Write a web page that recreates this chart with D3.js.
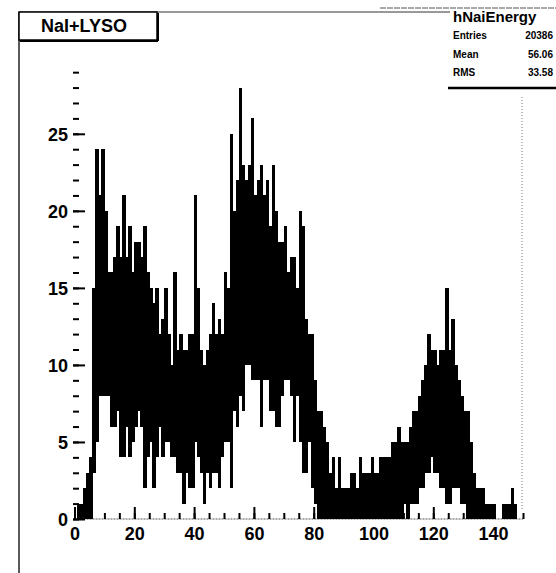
<!DOCTYPE html>
<html>
<head>
<meta charset="utf-8">
<script src="https://cdn.jsdelivr.net/npm/d3@7"></script>
<style>
  body { margin: 0; background: #fff; }
  svg { display: block; font-family: "Liberation Sans", Arial, sans-serif; }
</style>
</head>
<body>
<svg id="chart" width="556" height="573"></svg>
<script>
// hNaiEnergy. The fine binning makes the line look filled,
// so each 1-unit bin keeps the top and bottom of the black band (counts).
const countHi = [
  0, 1, 1, 2, 3, 4, 15, 24, 21, 24,
  20, 16, 16, 17, 19, 17, 21, 17, 19, 16,
  18, 18, 17, 19, 16, 15, 14, 15, 12, 13,
  15, 12, 10, 16, 11, 12, 11, 11, 12, 12,
  21, 15, 11, 10, 11, 12, 14, 12, 13, 12,
  16, 15, 25, 20, 22, 28, 23, 22, 23, 26,
  21, 22, 23, 21, 22, 19, 23, 20, 18, 18,
  19, 16, 17, 17, 15, 20, 19, 13, 12, 12,
  9, 7, 7, 6, 5, 3, 4, 2, 4, 2,
  2, 2, 3, 3, 2, 4, 3, 3, 3, 4,
  3, 3, 4, 4, 4, 4, 5, 5, 6, 5,
  5, 5, 6, 7, 7, 8, 9, 10, 12, 11,
  11, 10, 11, 11, 15, 11, 13, 10, 9, 8,
  7, 7, 5, 3, 2, 2, 2, 1, 1, 1,
  1, 0, 0, 1, 1, 1, 2, 1, 0, 0
];
const countLo = [
  0, 0, 0, 0, 0, 0, 3, 5, 8, 8,
  8, 8, 6, 6, 7, 4, 4, 6, 4, 5,
  6, 7, 6, 2, 4, 5, 2, 4, 6, 4,
  5, 5, 4, 4, 3, 3, 1, 3, 2, 2,
  5, 4, 3, 1, 3, 2, 3, 3, 2, 4,
  5, 5, 2, 7, 6, 8, 7, 10, 10, 9,
  9, 9, 6, 9, 9, 7, 7, 6, 6, 8,
  9, 9, 8, 5, 8, 5, 3, 3, 5, 2,
  1, 0, 0, 0, 0, 0, 0, 0, 0, 0,
  0, 0, 0, 0, 0, 0, 0, 0, 0, 0,
  0, 0, 0, 0, 0, 0, 0, 0, 0, 0,
  1, 0, 1, 1, 1, 2, 2, 3, 3, 4,
  3, 3, 2, 2, 1, 1, 2, 2, 2, 1,
  1, 0, 0, 0, 0, 0, 0, 0, 0, 0,
  0, 0, 0, 0, 0, 0, 0, 0, 0, 0
];
const xTickValues = [0, 20, 40, 60, 80, 100, 120, 140];
const yTickValues = [0, 5, 10, 15, 20, 25];
const histTitle = "NaI+LYSO";
const statsName = "hNaiEnergy";
const statNames = ["Entries", "Mean", "RMS"];
const statValues = ["20386", "56.06", "33.58"];

const svg = d3.select("#chart");

const x = d3.scaleLinear().domain([0, 150]).range([74.5, 523]);
const y = d3.scaleLinear().domain([0, 29.4]).range([519, 66]);

// pad border (only left and top survive in the scan)
svg.append("line")
    .attr("x1", 19).attr("y1", 12).attr("x2", 19).attr("y2", 573)
    .attr("stroke", "#222").attr("stroke-width", 1.5);
svg.append("line")
    .attr("x1", 19).attr("y1", 12).attr("x2", 450).attr("y2", 12)
    .attr("stroke", "#333").attr("stroke-width", 1.2);

// frame right side, dotted
svg.append("line")
    .attr("x1", x(150) - 1).attr("y1", 97).attr("x2", x(150) - 1).attr("y2", y(0) - 8)
    .attr("stroke", "#777").attr("stroke-width", 1).attr("stroke-dasharray", "1,2");

// x baseline
svg.append("line")
    .attr("x1", x(0)).attr("y1", y(0)).attr("x2", x(150)).attr("y2", y(0))
    .attr("stroke", "#555").attr("stroke-width", 1).attr("stroke-dasharray", "2,1");

// histogram band
let bins = countHi.map((h, i) => ({bin: i, hi: h, lo: countLo[i]})).filter(d => d.hi > d.lo);

svg.append("g").attr("class", "hist")
    .selectAll("rect").data(bins).enter().append("rect")
    .attr("x", d => x(d.bin))
    .attr("width", d => x(d.bin + 1) - x(d.bin) + 0.4)
    .attr("y", d => y(d.hi))
    .attr("height", d => y(d.lo) - y(d.hi))
    .attr("fill", "#000")
    .attr("shape-rendering", "crispEdges");

// y axis, ticks pointing into the frame
let yMinor = svg.append("g").attr("transform", "translate(73,0)")
    .call(d3.axisLeft(y).tickValues(d3.range(0, 30)).tickSize(-6).tickFormat(""));
let yMajor = svg.append("g").attr("transform", "translate(73,0)")
    .call(d3.axisLeft(y).tickValues(yTickValues).tickSize(-12).tickPadding(5));

// x axis
let xMinor = svg.append("g").attr("transform", "translate(0," + y(0) + ")")
    .call(d3.axisBottom(x).tickValues(d3.range(0, 151, 5)).tickSize(-6).tickFormat(""));
let xMajor = svg.append("g").attr("transform", "translate(0," + y(0) + ")")
    .call(d3.axisBottom(x).tickValues(xTickValues).tickSize(-12).tickPadding(8));

[yMinor, yMajor, xMinor, xMajor].forEach(g => {
    g.select(".domain").remove();
    g.selectAll("line").attr("stroke", "#000").attr("stroke-width", 2);
    g.selectAll("text")
        .attr("fill", "#000")
        .style("font-size", "18px")
        .style("font-weight", "bold")
        .style("font-family", "'Liberation Sans', Arial, sans-serif");
});
yMajor.selectAll("text").attr("dy", "0.36em");

// title box
svg.append("rect")
    .attr("x", 19).attr("y", 12).attr("width", 138).attr("height", 28)
    .attr("fill", "#fff").attr("stroke", "#000").attr("stroke-width", 1.5);
svg.append("line")
    .attr("x1", 20).attr("y1", 41).attr("x2", 158).attr("y2", 41)
    .attr("stroke", "#000").attr("stroke-width", 2);
svg.append("line")
    .attr("x1", 158).attr("y1", 13).attr("x2", 158).attr("y2", 41)
    .attr("stroke", "#000").attr("stroke-width", 2);
svg.append("text")
    .attr("x", 84).attr("y", 32)
    .attr("text-anchor", "middle")
    .style("font-size", "18px").style("font-weight", "bold")
    .text(histTitle);

// stats box
svg.append("line")
    .attr("x1", 380).attr("y1", 8).attr("x2", 556).attr("y2", 8)
    .attr("stroke", "#555").attr("stroke-width", 1).attr("stroke-dasharray", "6,1");
svg.append("line")
    .attr("x1", 448).attr("y1", 88).attr("x2", 556).attr("y2", 88)
    .attr("stroke", "#000").attr("stroke-width", 2.5);
svg.append("text")
    .attr("x", 453).attr("y", 22)
    .style("font-size", "15px").style("font-weight", "bold")
    .text(statsName);
let statRows = svg.append("g").selectAll("g").data(statNames).enter().append("g");
statRows.append("text")
    .attr("x", 453).attr("y", (d, i) => 39 + i * 18.5)
    .style("font-size", "10px").style("font-weight", "bold")
    .text(d => d);
statRows.append("text")
    .attr("x", 553).attr("y", (d, i) => 39 + i * 18.5)
    .attr("text-anchor", "end")
    .style("font-size", "10px").style("font-weight", "bold")
    .text((d, i) => statValues[i]);
</script>
</body>
</html>
